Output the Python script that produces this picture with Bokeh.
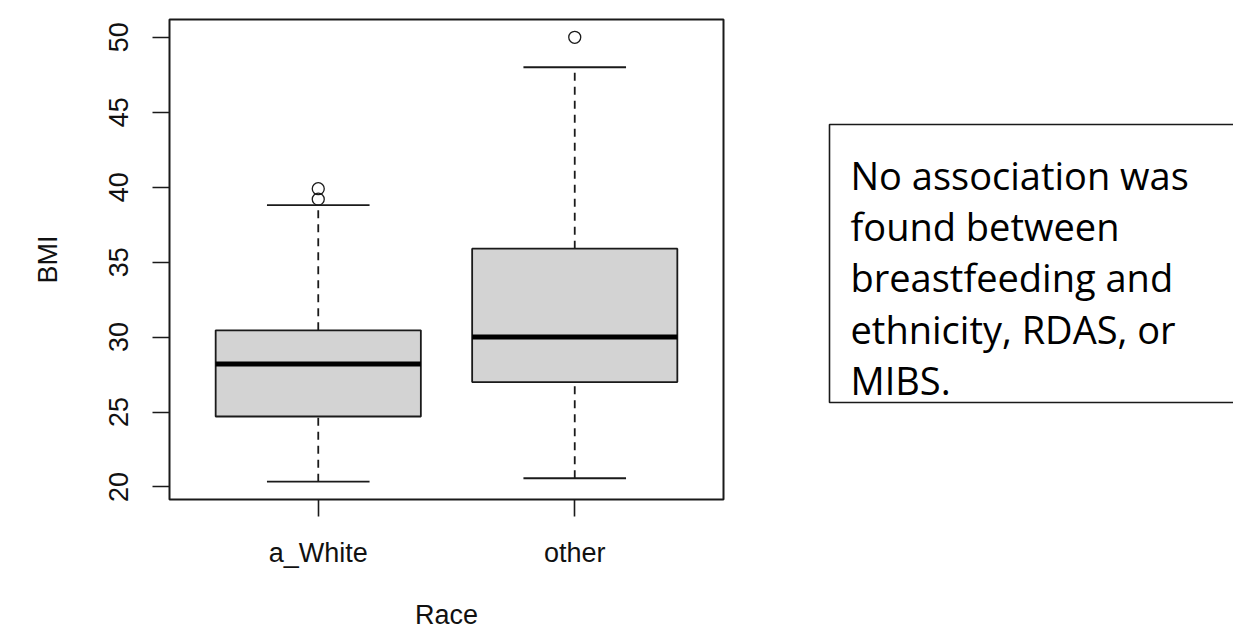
from bokeh.plotting import figure
from bokeh.models import ColumnDataSource, FactorRange, Range1d, FixedTicker
from bokeh.layouts import row
from bokeh.transform import dodge
from bokeh.core.properties import value
from bokeh.embed import file_html
from bokeh.resources import INLINE

# ---- data ----
race = ["a_White", "other"]
lower_whisker = [20.35, 20.58]
q1 = [24.7, 27.0]
median = [28.2, 30.0]
q3 = [30.45, 35.9]
upper_whisker = [38.8, 48.0]
outlier_race = ["a_White", "a_White", "other"]
outlier_bmi = [39.9, 39.2, 50.0]
y_ticks = [20, 25, 30, 35, 40, 45, 50]
note_lines = ["No association was", "found between", "breastfeeding and",
              "ethnicity, RDAS, or", "MIBS."]

# ---- style ----
INK = "#1a1a1a"
AXIS_FONT = "Liberation Sans"
FS = "27px"
H = 632
W1 = 800
W2 = 433

all_vals = lower_whisker + upper_whisker + outlier_bmi
lo, hi = min(all_vals), max(all_vals)
pad = 0.04 * (hi - lo)

src = ColumnDataSource(dict(race=race, lw=lower_whisker, q1=q1, med=median,
                            q3=q3, uw=upper_whisker))
osrc = ColumnDataSource(dict(race=outlier_race, bmi=outlier_bmi))

FRAME_L, FRAME_T, FRAME_R, FRAME_B = 169, 19, 723, 499

p = figure(width=W1, height=H,
           x_range=FactorRange(factors=race, range_padding=0.08,
                               range_padding_units="absolute"),
           y_range=Range1d(lo - pad, hi + pad),
           output_backend="svg", toolbar_location=None,
           min_border_left=FRAME_L, min_border_top=FRAME_T,
           min_border_bottom=H - FRAME_B, min_border_right=W1 - FRAME_R,
           x_axis_label="Race", y_axis_label="BMI")
p.xgrid.visible = False
p.ygrid.visible = False
p.outline_line_color = INK
p.outline_line_width = 2
p.background_fill_color = "white"
p.border_fill_color = "white"

for ax in (p.xaxis[0], p.yaxis[0]):
    ax.axis_line_color = None
    ax.major_tick_line_color = INK
    ax.major_tick_line_width = 1.6
    ax.major_tick_out = 17
    ax.major_tick_in = 0
    ax.minor_tick_line_color = None
    ax.major_label_text_font = AXIS_FONT
    ax.major_label_text_font_size = FS
    ax.major_label_text_color = "#111111"
    ax.axis_label_text_font = AXIS_FONT
    ax.axis_label_text_font_size = FS
    ax.axis_label_text_font_style = "normal"
    ax.axis_label_text_color = "#111111"

p.yaxis[0].ticker = FixedTicker(ticks=y_ticks)
p.yaxis[0].major_label_orientation = "vertical"
p.yaxis[0].major_label_standoff = 24
p.yaxis[0].axis_label_standoff = 44
p.xaxis[0].major_label_standoff = 21
p.xaxis[0].axis_label_standoff = 29

# whiskers (dashed)
p.segment(x0="race", y0="q3", x1="race", y1="uw", source=src,
          line_color=INK, line_width=1.8, line_dash="8 6")
p.segment(x0="race", y0="lw", x1="race", y1="q1", source=src,
          line_color=INK, line_width=1.8, line_dash="8 6")
# whisker caps
p.segment(x0=dodge("race", -0.2, range=p.x_range), y0="uw",
          x1=dodge("race", 0.2, range=p.x_range), y1="uw", source=src,
          line_color=INK, line_width=1.8)
p.segment(x0=dodge("race", -0.2, range=p.x_range), y0="lw",
          x1=dodge("race", 0.2, range=p.x_range), y1="lw", source=src,
          line_color=INK, line_width=1.8)
# boxes
p.vbar(x="race", top="q3", bottom="q1", width=0.8, source=src,
       fill_color="#D3D3D3", line_color=INK, line_width=1.8)
# medians
p.segment(x0=dodge("race", -0.4, range=p.x_range), y0="med",
          x1=dodge("race", 0.4, range=p.x_range), y1="med", source=src,
          line_color="black", line_width=5, line_cap="butt")
# outliers
p.scatter(x="race", y="bmi", source=osrc, marker="circle", size=12,
          fill_color=None, line_color=INK, line_width=1.3)

# ---- note box (right panel; its frame is aligned with the left frame,
#      ranges are set so that one unit equals one page pixel) ----
q = figure(width=W2, height=H,
           x_range=Range1d(W1, W1 + W2), y_range=Range1d(FRAME_B, FRAME_T),
           output_backend="svg", toolbar_location=None,
           min_border_left=0, min_border_right=0, min_border_top=0,
           min_border_bottom=0)
q.axis.visible = False
q.grid.visible = False
q.outline_line_color = None
q.background_fill_color = "white"
q.border_fill_color = "white"

box_left, box_top, box_bottom, box_right = 829, 124, 402, W1 + W2 + 20
q.multi_line(xs=[[box_right, box_left, box_left, box_right]],
             ys=[[box_top, box_top, box_bottom, box_bottom]],
             line_color=INK, line_width=1.6)

first_base, step = 174.5, 51.2
q.text(x=[850] * len(note_lines),
       y=[first_base + i * step for i in range(len(note_lines))],
       text=note_lines, text_font=value("Open Sans"), text_font_size="38px",
       text_color="black", text_align="left", text_baseline="alphabetic")

layout = row(p, q)
open("out.html", "w").write(file_html(layout, INLINE))
